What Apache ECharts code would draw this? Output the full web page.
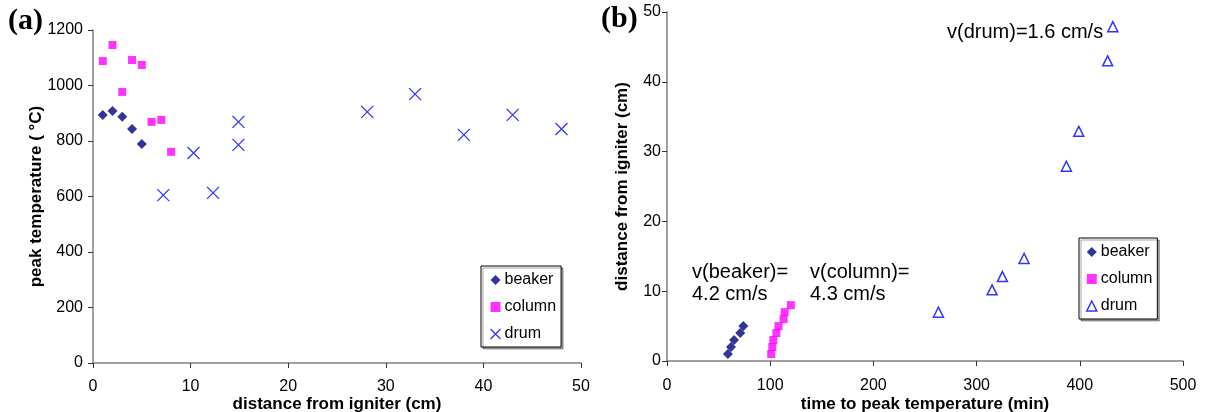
<!DOCTYPE html>
<html>
<head>
<meta charset="utf-8">
<script src="https://cdn.jsdelivr.net/npm/echarts@6/dist/echarts.min.js"></script>
<style>
  html, body { margin: 0; padding: 0; background: #fff; }
  #chart { width: 1205px; height: 412px; }
</style>
</head>
<body>
<div id="chart"></div>
<script>
// (a) peak temperature vs distance from igniter
var beakerDist = [1, 2, 3, 4, 5]
var beakerTemp = [894, 908, 887, 843, 789]
var columnDist = [1, 2, 3, 4, 5, 6, 7, 8]
var columnTemp = [1088, 1146, 977, 1092, 1074, 869, 876, 761]
var drumDist = [7.2, 10.3, 12.3, 14.9, 14.9, 28.1, 33, 38, 43, 48]
var drumTemp = [605, 757, 613, 869, 786, 905, 969, 822, 894, 843]

// (b) distance from igniter vs time to peak temperature
var beakerTime = [59, 62, 65, 71, 74]
var beakerPos = [1, 2, 3, 4, 5]
var columnTime = [101, 102, 103, 106, 108, 113, 114, 120]
var columnPos = [1, 2, 3, 4, 5, 6, 7, 8]
var drumTime = [263, 315, 325, 346, 387, 399, 427, 432]
var drumPos = [7, 10.2, 12.1, 14.7, 27.9, 32.9, 43, 47.9]

var seriesNames = ['beaker', 'column', 'drum']

function pairs(xs, ys) {
    return xs.map(function(x, i) { return [x, ys[i]] })
}

var navy = '#000080'
var magenta = '#FF00FF'
var blue = '#0000FF'
var axisGray = '#808080'
var font = 'Liberation Sans, Arial, sans-serif'
var crossPath = 'path://M0,0L10,10M10,0L0,10'

function axisCommon() {
    return {
        type: 'value',
        splitLine: { show: false },
        axisLine: { show: true, lineStyle: { color: axisGray, width: 1.5 } },
        axisTick: { show: true, length: 5, lineStyle: { color: '#333', width: 1 } },
        axisLabel: {
            color: '#000', fontSize: 16, fontFamily: font,
            formatter: function(v) { return String(v) } // no thousands separator
        },
        nameLocation: 'middle',
        nameMoveOverlap: false,
        nameTextStyle: { color: '#000', fontSize: 17, fontWeight: 'bold', fontFamily: font }
    }
}

function legendOpt(left, top, drumIcon, drumStyle) {
    return {
        orient: 'vertical',
        left: left,
        top: top,
        padding: [6, 5, 5, 7],
        itemGap: 11,
        itemWidth: 10,
        itemHeight: 10,
        borderColor: '#000',
        borderWidth: 1,
        backgroundColor: '#fff',
        shadowColor: 'rgba(0,0,0,0.35)',
        shadowOffsetX: 2,
        shadowOffsetY: 2,
        shadowBlur: 0,
        textStyle: { color: '#000', fontSize: 16, fontFamily: font, padding: [0, 0, 0, -1] },
        data: [
            { name: seriesNames[0], icon: 'diamond', itemStyle: { color: navy } },
            { name: seriesNames[1], icon: 'rect', itemStyle: { color: magenta } },
            { name: seriesNames[2], icon: drumIcon, itemStyle: drumStyle }
        ]
    }
}

var xA = axisCommon()
xA.gridIndex = 0
xA.min = 0; xA.max = 50; xA.interval = 10
xA.name = 'distance from igniter (cm)'
xA.nameGap = 33
xA.axisLabel.margin = 16

var yA = axisCommon()
yA.gridIndex = 0
yA.min = 0; yA.max = 1200; yA.interval = 200
yA.name = 'peak temperature ( °C)'
yA.nameGap = 48
yA.axisLabel.margin = 10

var xB = axisCommon()
xB.gridIndex = 1
xB.min = 0; xB.max = 500; xB.interval = 100
xB.name = 'time to peak temperature (min)'
xB.nameGap = 35
xB.axisLabel.margin = 17

var yB = axisCommon()
yB.gridIndex = 1
yB.min = 0; yB.max = 50; yB.interval = 10
yB.name = 'distance from igniter (cm)'
yB.nameGap = 36
yB.axisLabel.margin = 6

var option = {
    backgroundColor: '#fff',
    animation: false,
    grid: [
        { left: 93, top: 30, right: 624, bottom: 49, outerBoundsMode: 'none', containLabel: false },
        { left: 667, top: 12, right: 22, bottom: 51, outerBoundsMode: 'none', containLabel: false }
    ],
    xAxis: [xA, xB],
    yAxis: [yA, yB],
    legend: [
        legendOpt(481, 266, crossPath, { color: 'none', borderColor: blue, borderWidth: 1.3 }),
        legendOpt(1079, 238, 'triangle', { color: '#fff', borderColor: blue, borderWidth: 1.5 })
    ],
    series: [
        {
            name: 'beaker', type: 'scatter', xAxisIndex: 0, yAxisIndex: 0,
            symbol: 'diamond', symbolSize: 10,
            itemStyle: { color: navy },
            data: pairs(beakerDist, beakerTemp)
        },
        {
            name: 'column', type: 'scatter', xAxisIndex: 0, yAxisIndex: 0,
            symbol: 'rect', symbolSize: 8,
            itemStyle: { color: magenta },
            data: pairs(columnDist, columnTemp)
        },
        {
            name: 'drum', type: 'scatter', xAxisIndex: 0, yAxisIndex: 0,
            symbol: crossPath, symbolSize: 12,
            itemStyle: { color: 'none', borderColor: blue, borderWidth: 1.3 },
            data: pairs(drumDist, drumTemp)
        },
        {
            name: 'beaker', type: 'scatter', xAxisIndex: 1, yAxisIndex: 1,
            symbol: 'diamond', symbolSize: 10,
            itemStyle: { color: navy },
            data: pairs(beakerTime, beakerPos)
        },
        {
            name: 'column', type: 'scatter', xAxisIndex: 1, yAxisIndex: 1,
            symbol: 'rect', symbolSize: 8,
            itemStyle: { color: magenta },
            data: pairs(columnTime, columnPos)
        },
        {
            name: 'drum', type: 'scatter', xAxisIndex: 1, yAxisIndex: 1,
            symbol: 'triangle', symbolSize: 10,
            itemStyle: { color: '#fff', borderColor: blue, borderWidth: 1.5 },
            data: pairs(drumTime, drumPos)
        }
    ],
    graphic: [
        {
            type: 'text', left: 8, top: 6,
            style: { text: '(a)', fill: '#000', font: 'bold 30px "Liberation Serif", "Times New Roman", serif' }
        },
        {
            type: 'text', left: 601, top: 4,
            style: { text: '(b)', fill: '#000', font: 'bold 30px "Liberation Serif", "Times New Roman", serif' }
        },
        {
            type: 'text', left: 692, top: 261,
            style: { text: 'v(beaker)=\n4.2 cm/s', fill: '#000', lineHeight: 22, font: '20px "Liberation Sans", Arial, sans-serif' }
        },
        {
            type: 'text', left: 810, top: 261,
            style: { text: 'v(column)=\n4.3 cm/s', fill: '#000', lineHeight: 22, font: '20px "Liberation Sans", Arial, sans-serif' }
        },
        {
            type: 'text', left: 947, top: 21,
            style: { text: 'v(drum)=1.6 cm/s', fill: '#000', lineHeight: 22, font: '20px "Liberation Sans", Arial, sans-serif' }
        }
    ]
}

var chart = echarts.init(document.getElementById('chart'))
chart.setOption(option)
window.addEventListener('resize', function() {
    chart.resize()
})
</script>
</body>
</html>
